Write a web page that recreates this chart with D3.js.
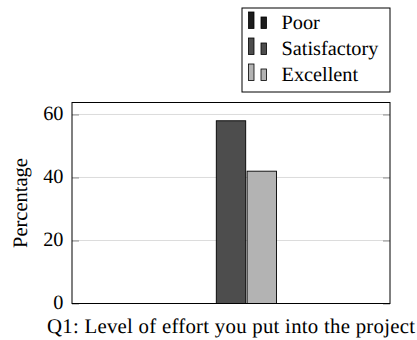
<!DOCTYPE html>
<html>
<head>
<meta charset="utf-8">
<script src="https://cdn.jsdelivr.net/npm/d3@7"></script>
<style>
  html, body { margin: 0; padding: 0; background: #fff; }
  svg { display: block; }
  svg text { text-rendering: geometricPrecision; }
</style>
</head>
<body>
<svg id="chart" width="417" height="340"></svg>
<script>
// Survey responses for one question, in percent
const categories = ["Q1: Level of effort you put into the project"];
const seriesNames = ["Poor", "Satisfactory", "Excellent"];
const poorValues = [0];
const satisfactoryValues = [58];
const excellentValues = [42];
const yTicks = [0, 20, 40, 60];
const seriesColors = ["#1c1c1c", "#4d4d4d", "#b3b3b3"];

const seriesValues = [poorValues, satisfactoryValues, excellentValues];

const serif = "'Liberation Serif', 'Times New Roman', Times, serif";
const svg = d3.select("#chart");
const plot = { left: 72, right: 390, top: 102.5, bottom: 303.5 };
const fontSize = 20.3;

const x0 = d3.scaleBand().domain(categories).range([plot.left, plot.right]);
const groupHalf = 45.5;
const y = d3.scaleLinear().domain([0, 63.8]).range([plot.bottom, plot.top]);

// horizontal grid
svg.append("g")
  .selectAll("line")
  .data(yTicks.filter(t => t > 0))
  .join("line")
  .attr("x1", plot.left).attr("x2", plot.right)
  .attr("y1", d => y(d)).attr("y2", d => y(d))
  .attr("stroke", "#dcdcdc").attr("stroke-width", 1);

// inner ticks on both vertical sides
const leftAxis = d3.axisLeft(y).tickValues(yTicks).tickSize(-7).tickFormat("");
const rightAxis = d3.axisRight(y).tickValues(yTicks).tickSize(-7).tickFormat("");
const gl = svg.append("g").attr("transform", `translate(${plot.left},0)`).call(leftAxis);
const gr = svg.append("g").attr("transform", `translate(${plot.right},0)`).call(rightAxis);
[gl, gr].forEach(g => {
  g.select(".domain").remove();
  g.selectAll(".tick line").attr("stroke", "#8c8c8c").attr("stroke-width", 1);
});

// tick labels
svg.append("g")
  .selectAll("text")
  .data(yTicks)
  .join("text")
  .attr("x", plot.left - 8.5)
  .attr("y", d => y(d))
  .attr("dy", "0.28em")
  .attr("text-anchor", "end")
  .attr("font-family", serif)
  .attr("font-size", fontSize)
  .text(d => d);

// bars
categories.forEach((cat, ci) => {
  const cx = x0(cat) + x0.bandwidth() / 2;
  const x1 = d3.scaleBand().domain(seriesNames)
    .range([cx - groupHalf, cx + groupHalf]).paddingInner(0.045);
  svg.append("g")
    .selectAll("rect")
    .data(seriesNames.map((s, si) => ({ s, si, v: seriesValues[si][ci] })))
    .join("rect")
    .attr("x", d => x1(d.s))
    .attr("width", x1.bandwidth())
    .attr("y", d => y(d.v))
    .attr("height", d => y(0) - y(d.v))
    .attr("fill", d => seriesColors[d.si])
    .attr("stroke", "#000")
    .attr("stroke-width", 0.9);
});

// frame
svg.append("rect")
  .attr("x", plot.left).attr("y", plot.top)
  .attr("width", plot.right - plot.left).attr("height", plot.bottom - plot.top)
  .attr("fill", "none").attr("stroke", "#000").attr("stroke-width", 1);

// axis titles
svg.append("text")
  .attr("x", (plot.left + plot.right) / 2)
  .attr("y", 332.5)
  .attr("text-anchor", "middle")
  .attr("font-family", serif)
  .attr("font-size", 20.8)
  .attr("textLength", 368)
  .attr("lengthAdjust", "spacing")
  .text(categories[0]);

svg.append("text")
  .attr("transform", `translate(27,${(plot.top + plot.bottom) / 2}) rotate(-90)`)
  .attr("text-anchor", "middle")
  .attr("font-family", serif)
  .attr("font-size", 20.5)
  .text("Percentage");

// legend
const legend = svg.append("g");
legend.append("rect")
  .attr("x", 242).attr("y", 8).attr("width", 148).attr("height", 84)
  .attr("fill", "#fff").attr("stroke", "#000").attr("stroke-width", 1);
seriesNames.forEach((s, i) => {
  const base = 28.5 + i * 26;
  legend.append("rect")
    .attr("x", 248.5).attr("y", base - 16.5).attr("width", 5.5).attr("height", 16.5)
    .attr("fill", seriesColors[i]).attr("stroke", "#000").attr("stroke-width", 0.8);
  legend.append("rect")
    .attr("x", 261).attr("y", base - 11.5).attr("width", 5.5).attr("height", 11.5)
    .attr("fill", seriesColors[i]).attr("stroke", "#000").attr("stroke-width", 0.8);
  legend.append("text")
    .attr("x", 281.5).attr("y", base)
    .attr("font-family", serif)
    .attr("font-size", fontSize)
    .text(s);
});
</script>
</body>
</html>
